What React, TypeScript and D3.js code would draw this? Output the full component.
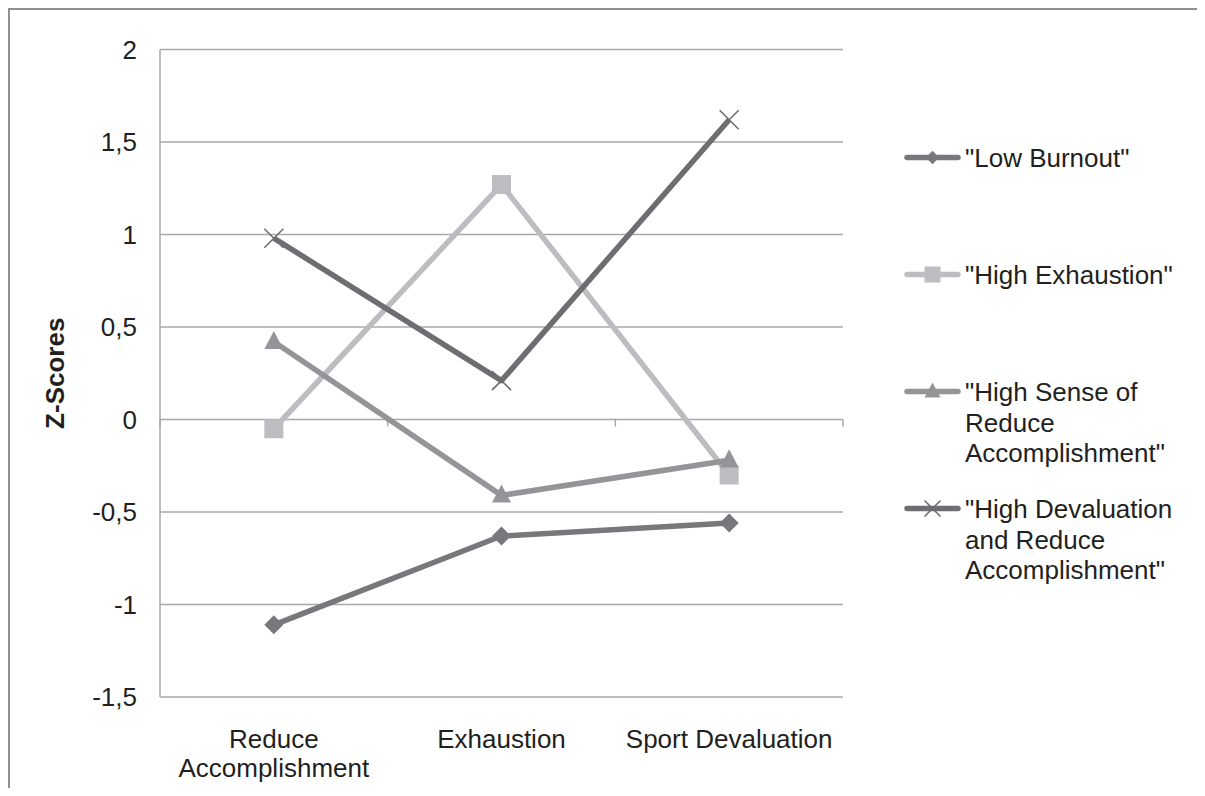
import React, { useMemo } from "react";
import * as d3 from "d3";

const categories = ["Reduce Accomplishment", "Exhaustion", "Sport Devaluation"];
const seriesNames = [
  "\"Low Burnout\"",
  "\"High Exhaustion\"",
  "\"High Sense of Reduce Accomplishment\"",
  "\"High Devaluation and Reduce Accomplishment\"",
];
const lowBurnout = [-1.11, -0.63, -0.56];
const highExhaustion = [-0.05, 1.27, -0.3];
const highSenseReduce = [0.42, -0.41, -0.22];
const highDevaluation = [0.98, 0.21, 1.62];
const yTicks = [-1.5, -1, -0.5, 0, 0.5, 1, 1.5, 2];
const yTitle = "Z-Scores";

const seriesValues = [lowBurnout, highExhaustion, highSenseReduce, highDevaluation];
const seriesColors = ["#77787b", "#bcbdc0", "#939598", "#6d6e71"];
const seriesMarkers = ["diamond", "square", "triangle", "x"];

const FONT = "'Liberation Sans', Arial, Helvetica, sans-serif";
const FS = 26;

function measure(text: string, bold = false): number {
  const c = document.createElement("canvas");
  const ctx = c.getContext("2d");
  if (!ctx) return text.length * FS * 0.55;
  ctx.font = `${bold ? "bold " : ""}${FS}px ${FONT}`;
  return ctx.measureText(text).width;
}

function wrap(text: string, maxW: number): string[] {
  const words = text.split(" ");
  const lines: string[] = [];
  let cur = "";
  for (const w of words) {
    const t = cur ? cur + " " + w : w;
    if (cur && measure(t) > maxW) {
      lines.push(cur);
      cur = w;
    } else cur = t;
  }
  if (cur) lines.push(cur);
  return lines;
}

function markerPath(type: string, s: number): string {
  const h = s / 2;
  if (type === "diamond") {
    return `M0,${-h}L${h},0L0,${h}L${-h},0Z`;
  }
  if (type === "square") return `M${-h},${-h}H${h}V${h}H${-h}Z`;
  if (type === "triangle") {
    const th = s * 0.95;
    return `M0,${-th * 0.6}L${h},${th * 0.4}L${-h},${th * 0.4}Z`;
  }
  return `M${-h},${-h}L${h},${h}M${-h},${h}L${h},${-h}`;
}

function Marker({ type, x, y, size, color }: any) {
  const d = markerPath(type, size);
  if (type === "x")
    return <path d={d} transform={`translate(${x},${y})`} stroke={color} strokeWidth={1.6} fill="none" />;
  return <path d={d} transform={`translate(${x},${y})`} fill={color} />;
}

export default function App() {
  const left = 160, right = 843, top = 49.5, bottom = 697;
  const x = d3.scaleBand<string>().domain(categories).range([left, right]).padding(0);
  const y = d3.scaleLinear().domain([-1.5, 2]).range([bottom, top]);
  const cx = (c: string) => (x(c) as number) + x.bandwidth() / 2;
  const y0 = y(0);

  const line = d3
    .line<number>()
    .x((_, i) => cx(categories[i]))
    .y((d) => y(d));

  const catLines = useMemo(() => categories.map((c) => wrap(c, x.bandwidth() - 10)), []);
  const legLines = useMemo(() => seriesNames.map((n) => wrap(n, 232)), []);

  const boundaries = [...categories.map((c) => x(c) as number), right];
  const legendY = [157.5, 274.5, 391.5, 508.5];

  return (
    <svg width={1197} height={780} style={{ display: "block" }}>
      <g transform="translate(-8,-8)" fontFamily={FONT} fontSize={FS} fill="#231f20">
        <rect x={9} y={9} width={1192} height={790} fill="#fff" />
        <path d="M9,800V9H1201V800" fill="none" stroke="#8f9093" strokeWidth={2} />
        {/* gridlines */}
        {yTicks.map((t) => (
          <line key={t} x1={left} x2={right} y1={y(t)} y2={y(t)} stroke="#a7a9ac" strokeWidth={1.5} />
        ))}
        {/* y axis */}
        <line x1={left} x2={left} y1={top} y2={bottom} stroke="#a7a9ac" strokeWidth={1.5} />
        {/* category axis at 0 with ticks */}
        {boundaries.map((b, i) => (
          <line key={i} x1={b} x2={b} y1={y0} y2={y0 + 7} stroke="#a7a9ac" strokeWidth={1.5} />
        ))}
        {/* y tick labels */}
        {yTicks.map((t) => (
          <text key={t} x={137} y={y(t)} dy="0.36em" textAnchor="end">
            {String(t).replace(".", ",")}
          </text>
        ))}
        {/* y title */}
        <text
          transform={`translate(64,${(top + bottom) / 2}) rotate(-90)`}
          textAnchor="middle"
          fontWeight="bold"
        >
          {yTitle}
        </text>
        {/* category labels */}
        {categories.map((c, i) => (
          <text key={c} x={cx(c)} y={748} textAnchor="middle">
            {catLines[i].map((l, j) => (
              <tspan key={j} x={cx(c)} dy={j === 0 ? 0 : 29}>
                {l}
              </tspan>
            ))}
          </text>
        ))}
        {/* series */}
        {seriesValues.map((vals, si) => (
          <g key={si}>
            <path
              d={line(vals) as string}
              fill="none"
              stroke={seriesColors[si]}
              strokeWidth={5.5}
              strokeLinejoin="round"
            />
            {vals.map((v, i) => (
              <Marker
                key={i}
                type={seriesMarkers[si]}
                x={cx(categories[i])}
                y={y(v)}
                size={19}
                color={seriesColors[si]}
              />
            ))}
          </g>
        ))}
        {/* legend */}
        {seriesNames.map((n, si) => (
          <g key={n}>
            <line
              x1={907}
              x2={958}
              y1={legendY[si]}
              y2={legendY[si]}
              stroke={seriesColors[si]}
              strokeWidth={5.5}
              strokeLinecap="round"
            />
            <Marker
              type={seriesMarkers[si]}
              x={932.5}
              y={legendY[si]}
              size={seriesMarkers[si] === "diamond" ? 13.5 : 16}
              color={seriesColors[si]}
            />
            <text x={965} y={legendY[si] + 9.5}>
              {legLines[si].map((l, j) => (
                <tspan key={j} x={965} dy={j === 0 ? 0 : 30.7}>
                  {l}
                </tspan>
              ))}
            </text>
          </g>
        ))}
      </g>
    </svg>
  );
}
